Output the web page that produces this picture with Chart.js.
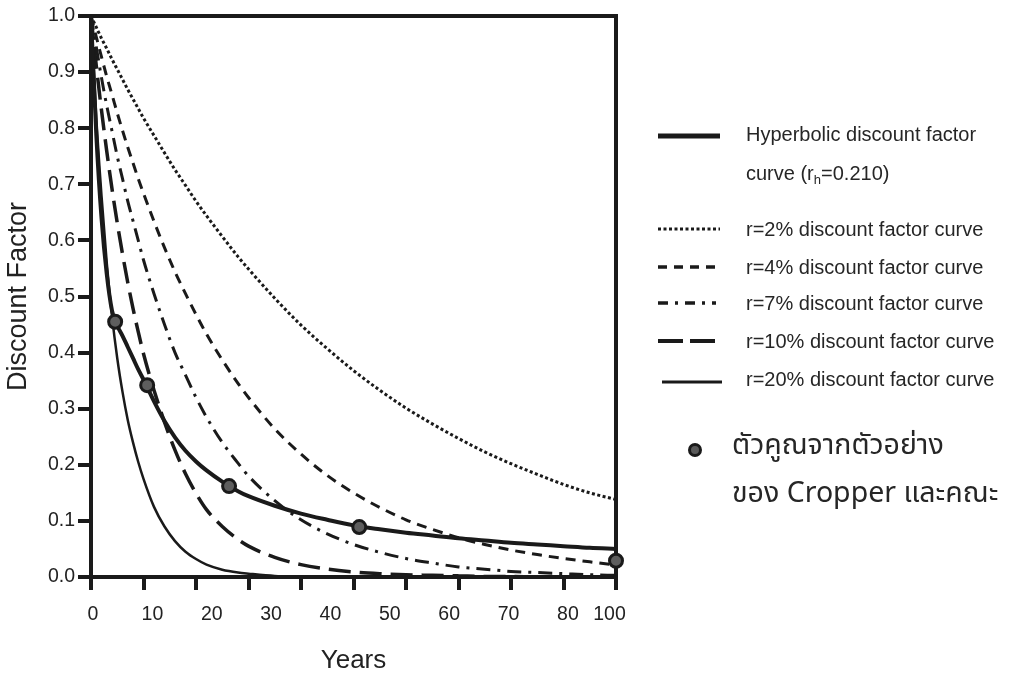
<!DOCTYPE html>
<html><head><meta charset="utf-8">
<script src="https://cdn.jsdelivr.net/npm/chart.js@4/dist/chart.umd.min.js"></script>
<style>
html,body{margin:0;padding:0;background:#fff;}
#wrap{position:relative;width:1020px;height:676px;overflow:hidden;font-family:"Liberation Sans",Arial,sans-serif;color:#222;}
#c{position:absolute;left:0;top:0;}
.lg{position:absolute;left:746px;font-size:20px;line-height:22px;white-space:nowrap;color:#262626;}
.lg sub{font-size:13px;vertical-align:-4px;line-height:0;}
.th{position:absolute;left:732px;font-size:28.5px;line-height:30px;white-space:nowrap;color:#262626;font-family:"Noto Sans Thai","Noto Sans","DejaVu Sans","Liberation Sans",sans-serif;}
svg{position:absolute;left:0;top:0;}
</style></head>
<body><div id="wrap">
<canvas id="c" width="1020" height="676"></canvas>
<svg width="1020" height="676">
  <line x1="658" y1="136" x2="720" y2="136" stroke="#1a1a1a" stroke-width="5"/>
  <line x1="658" y1="229" x2="720" y2="229" stroke="#1a1a1a" stroke-width="3" stroke-dasharray="3 2.5"/>
  <line x1="658" y1="267" x2="716" y2="267" stroke="#1a1a1a" stroke-width="3.5" stroke-dasharray="9 7"/>
  <line x1="658" y1="303" x2="716" y2="303" stroke="#1a1a1a" stroke-width="3.5" stroke-dasharray="10 7 3 7"/>
  <line x1="658" y1="341" x2="716" y2="341" stroke="#1a1a1a" stroke-width="4" stroke-dasharray="25 7"/>
  <line x1="662" y1="382" x2="722" y2="382" stroke="#1a1a1a" stroke-width="3"/>
  <circle cx="695" cy="450" r="5.5" fill="#5a5a5a" stroke="#1a1a1a" stroke-width="3"/>
</svg>
<div class="lg" style="top:123px">Hyperbolic discount factor</div>
<div class="lg" style="top:162px">curve (r<sub>h</sub>=0.210)</div>
<div class="lg" style="top:218px">r=2% discount factor curve</div>
<div class="lg" style="top:256px">r=4% discount factor curve</div>
<div class="lg" style="top:292px">r=7% discount factor curve</div>
<div class="lg" style="top:330px">r=10% discount factor curve</div>
<div class="lg" style="top:368px">r=20% discount factor curve</div>
<div class="th" style="top:431px">ตัวคูณจากตัวอย่าง</div>
<div class="th" style="top:479px">ของ Cropper และคณะ</div>
</div>
<script>
// ---- data (years on the plotted axis, discount factor) ----
const years      = [0,1,2,3,4,5,6,7,8,9,10,12,14,16,18,20,22,25,28,30,35,40,45,50,55,60,65,70,75,80,85,90,95,100];
const hyperbolic = [1,0.79,0.64,0.54,0.475,0.448,0.43,0.41,0.39,0.37,0.352,0.313,0.278,0.249,0.225,0.206,0.19,0.17,0.153,0.144,0.127,0.113,0.102,0.092,0.085,0.079,0.074,0.069,0.065,0.061,0.058,0.055,0.052,0.05];
const rate2      = [1,0.98,0.96,0.942,0.923,0.905,0.887,0.869,0.852,0.835,0.818,0.787,0.756,0.726,0.698,0.67,0.644,0.607,0.571,0.549,0.497,0.449,0.407,0.368,0.333,0.301,0.273,0.247,0.223,0.202,0.183,0.165,0.15,0.138];
const rate4      = [1,0.963,0.927,0.892,0.86,0.827,0.796,0.766,0.738,0.71,0.684,0.634,0.587,0.544,0.505,0.468,0.433,0.387,0.345,0.32,0.264,0.219,0.181,0.15,0.124,0.102,0.085,0.07,0.058,0.048,0.04,0.033,0.027,0.021];
const rate7      = [1,0.945,0.89,0.84,0.795,0.75,0.71,0.67,0.635,0.6,0.565,0.505,0.45,0.4,0.36,0.32,0.285,0.24,0.203,0.18,0.136,0.102,0.077,0.058,0.044,0.033,0.025,0.018,0.014,0.01,0.008,0.006,0.004,0.003];
const rate10     = [1,0.912,0.832,0.759,0.692,0.631,0.576,0.525,0.479,0.437,0.398,0.333,0.276,0.226,0.184,0.149,0.12,0.09,0.067,0.055,0.035,0.022,0.014,0.009,0.006,0.004,0.003,0.002,0.001,0.001,0,0,0,0];
const rate20     = [1,0.82,0.68,0.56,0.465,0.39,0.33,0.28,0.24,0.205,0.175,0.125,0.09,0.064,0.045,0.032,0.022,0.013,0.008,0.006,0.002,0.001,0,0,0,0,0,0,0,0,0,0,0,0];
const cropperYears  = [4.6,10.7,26.3,51.1,100];
const cropperValues = [0.455,0.342,0.162,0.089,0.029];
const xTickLabels = ['0','10','20','30','40','50','60','70','80','100'];
const yTickValues = [0,0.1,0.2,0.3,0.4,0.5,0.6,0.7,0.8,0.9,1.0];

const INK = '#1a1a1a';
const pts = (xs, ys) => xs.map((x, i) => ({x, y: ys[i]}));
const lineDs = (label, ys, width, dash) => ({
  type: 'line', label, data: pts(years, ys), borderColor: INK, borderWidth: width,
  borderDash: dash, borderCapStyle: 'butt', pointRadius: 0, fill: false,
  cubicInterpolationMode: 'monotone'
});

Chart.defaults.font.family = '"Liberation Sans", Arial, sans-serif';
Chart.defaults.color = '#222';

const frame = {
  id: 'frame',
  beforeDatasetsDraw(chart) {
    const {ctx, chartArea: a} = chart;
    ctx.save();
    ctx.strokeStyle = INK; ctx.lineWidth = 4;
    ctx.beginPath();
    ctx.moveTo(a.left - 2, a.top); ctx.lineTo(a.right, a.top); ctx.lineTo(a.right, a.bottom);
    ctx.stroke();
    ctx.restore();
  }
};

new Chart(document.getElementById('c'), {
  type: 'line',
  data: {
    datasets: [
      {type: 'scatter', label: 'Cropper', data: pts(cropperYears, cropperValues), showLine: false,
       pointRadius: 6.5, pointBackgroundColor: '#5e5e5e', pointBorderColor: INK, pointBorderWidth: 3, clip: false},
      lineDs('Hyperbolic', hyperbolic, 4, []),
      lineDs('r=2%', rate2, 3, [3, 2.5]),
      lineDs('r=4%', rate4, 3, [10, 7]),
      lineDs('r=7%', rate7, 3, [14, 7, 3, 7]),
      lineDs('r=10%', rate10, 3.5, [22, 9]),
      lineDs('r=20%', rate20, 2.5, [])
    ]
  },
  options: {
    responsive: false, animation: false, devicePixelRatio: 1,
    layout: {padding: {top: 16, right: 404, left: 0, bottom: 0}},
    plugins: {legend: {display: false}, tooltip: {enabled: false}},
    scales: {
      x: {
        type: 'linear', position: 'bottom', min: 0, max: 100, weight: 0,
        ticks: {display: false, stepSize: 10},
        grid: {display: true, drawOnChartArea: false, drawTicks: true, tickLength: 13, lineWidth: 4, color: INK},
        border: {display: true, width: 4, color: INK},
        afterFit: s => { s.height = 14; }
      },
      xl: {
        type: 'linear', position: 'bottom', min: -0.34, max: 88.1, weight: 1,
        afterBuildTicks: s => { s.ticks = xTickLabels.map(l => ({value: Math.min(Number(l), 87)})); },
        ticks: {autoSkip: false, maxRotation: 0, padding: 4, font: {size: 19.5},
                callback: (v, i) => xTickLabels[i]},
        grid: {display: false}, border: {display: false},
        title: {display: true, text: 'Years', font: {size: 26}, padding: {top: 0, bottom: 0}},
        afterFit: s => { s.height = 85; }
      },
      y: {
        type: 'linear', min: 0, max: 1,
        afterBuildTicks: s => { s.ticks = yTickValues.map(v => ({value: v})); },
        ticks: {padding: 3, font: {size: 19.5}, callback: v => Number(v).toFixed(1)},
        grid: {display: true, drawOnChartArea: false, drawTicks: true, tickLength: 13, lineWidth: 4, color: INK},
        border: {display: true, width: 4, color: INK},
        title: {display: true, text: 'Discount Factor', font: {size: 27}, padding: {top: 2, bottom: 2}},
        afterFit: s => { s.width = 91; }
      }
    }
  },
  plugins: [frame]
});
</script>
</body></html>
